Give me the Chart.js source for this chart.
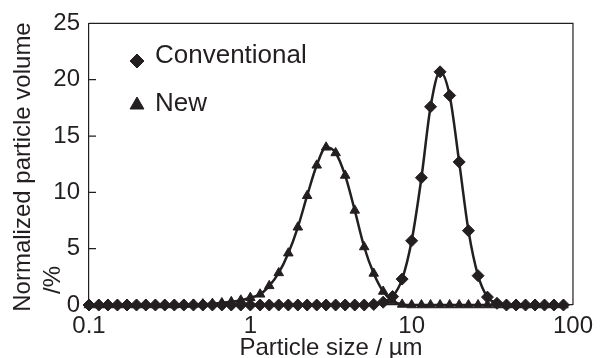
<!DOCTYPE html>
<html>
<head>
<meta charset="utf-8">
<script src="https://cdn.jsdelivr.net/npm/chart.js@4.4.1/dist/chart.umd.min.js"></script>
<style>
  html, body { margin: 0; padding: 0; background: #fff; }
</style>
</head>
<body>
<canvas id="sizeChart" width="600" height="358"></canvas>
<script>
// particle size bins (µm), 17 per decade
const sizes = [
    0.100, 0.115, 0.131, 0.150, 0.172, 0.197, 0.225, 0.258, 0.295, 0.338, 0.387, 0.444, 0.508, 0.582, 0.666, 0.762, 0.873,
    1.00, 1.15, 1.31, 1.50, 1.72, 1.97, 2.25, 2.58, 2.95, 3.38, 3.87, 4.44, 5.08, 5.82, 6.66, 7.62, 8.73,
    10.0, 11.5, 13.1, 15.0, 17.2, 19.7, 22.5, 25.8, 29.5, 33.8, 38.7, 44.4, 50.8, 58.2, 66.6, 76.2, 87.3
];
const conventional = [
    0, 0, 0, 0, 0, 0, 0, 0, 0, 0, 0, 0, 0, 0, 0, 0, 0,
    0, 0, 0, 0, 0, 0, 0, 0, 0, 0, 0, 0, 0, 0.05, 0.25, 0.75,
    2.3, 5.7, 11.3, 17.6, 20.7, 18.6, 12.7, 6.6, 2.6, 0.7, 0.15, 0, 0, 0, 0, 0, 0, 0
];
const newPowder = [
    0, 0, 0, 0, 0, 0, 0, 0, 0, 0, 0.03, 0.05, 0.08, 0.12, 0.18, 0.28, 0.42,
    0.65, 0.95, 1.7, 2.85, 4.6, 6.9, 9.7, 12.4, 14.0, 13.5, 11.5, 8.4, 5.15, 2.8, 1.2, 0.35,
    0.05, 0, 0, 0, 0, 0, 0, 0, 0, 0, 0, 0, 0, 0, 0, 0, 0, 0
];
const seriesNames = ['Conventional', 'New'];
const xTicks = [0.1, 1, 10, 100];
const xTickLabels = ['0.1', '1', '10', '100'];
const yTitle = ['Normalized particle volume', '/%'];
const xTitle = 'Particle size / µm';

const ink = '#231f20';
const fontFamily = "'Liberation Sans', Arial, sans-serif";
Chart.defaults.font.family = fontFamily;
Chart.defaults.color = ink;

const toPoints = vals => sizes.map((s, i) => ({ x: s, y: vals[i] }));

// box frame, inward y ticks, y title and inset legend
const decorations = {
    id: 'decorations',
    beforeDatasetsDraw(chart) {
        const { ctx, chartArea: a, scales } = chart;
        ctx.save();
        ctx.strokeStyle = ink;
        ctx.lineWidth = 1.2;
        ctx.beginPath();
        ctx.moveTo(a.left, a.top);
        ctx.lineTo(a.right, a.top);
        ctx.lineTo(a.right, a.bottom);
        scales.y.ticks.forEach(t => {
            if (t.value <= 0 || t.value >= 25) return;
            const py = scales.y.getPixelForValue(t.value);
            ctx.moveTo(a.left, py);
            ctx.lineTo(a.left + 7, py);
        });
        ctx.stroke();
        ctx.restore();
    },
    afterDraw(chart) {
        const { ctx } = chart;
        ctx.save();
        ctx.fillStyle = ink;
        ctx.font = '24px ' + fontFamily;
        ctx.textBaseline = 'middle';
        ctx.translate(23, 0);
        ctx.rotate(-Math.PI / 2);
        ctx.textAlign = 'center';
        ctx.fillText(yTitle[0], -167, 0);
        ctx.fillText(yTitle[1], -280, 30);
        ctx.restore();

        // legend
        const legendRows = [
            { x: 137, y: 61, text: 56, r: 7 },
            { x: 137, y: 105, text: 104, r: 8 }
        ];
        ctx.save();
        ctx.font = '26px ' + fontFamily;
        ctx.textBaseline = 'middle';
        ctx.textAlign = 'left';
        chart.data.datasets.forEach((ds, i) => {
            const row = legendRows[i];
            ctx.fillStyle = ink;
            ctx.strokeStyle = ink;
            Chart.helpers.drawPoint(ctx, { pointStyle: ds.pointStyle, radius: row.r, rotation: 0, borderWidth: 1 }, row.x, row.y);
            ctx.fillStyle = ink;
            ctx.fillText(ds.label, 155, row.text);
        });
        ctx.restore();
    }
};

new Chart(document.getElementById('sizeChart'), {
    type: 'line',
    data: {
        datasets: [{
            label: seriesNames[0],
            data: toPoints(conventional),
            borderColor: ink,
            backgroundColor: ink,
            borderWidth: 2.5,
            pointStyle: 'rectRot',
            pointRadius: 6,
            pointBorderWidth: 1,
            cubicInterpolationMode: 'monotone',
            clip: false
        }, {
            label: seriesNames[1],
            data: toPoints(newPowder),
            borderColor: ink,
            backgroundColor: ink,
            borderWidth: 2.5,
            pointStyle: 'triangle',
            pointRadius: 5.5,
            pointBorderWidth: 1,
            cubicInterpolationMode: 'monotone',
            clip: false
        }]
    },
    options: {
        responsive: false,
        animation: false,
        layout: { padding: { top: 22, right: 25, left: 0, bottom: 0 } },
        plugins: {
            legend: { display: false },
            tooltip: { enabled: false }
        },
        scales: {
            x: {
                type: 'logarithmic',
                min: 0.1,
                max: 100,
                afterBuildTicks: s => { s.ticks = xTicks.map(v => ({ value: v })); },
                afterFit: s => { s.height = 53; },
                ticks: {
                    autoSkip: false,
                    maxRotation: 0,
                    padding: 7,
                    font: { size: 24 },
                    callback: v => xTickLabels[xTicks.indexOf(v)]
                },
                grid: { display: false, drawTicks: false },
                border: { color: ink, width: 1.2 },
                title: {
                    display: true,
                    text: xTitle,
                    font: { size: 24, lineHeight: 0.8 },
                    padding: { top: 0, bottom: 0 }
                }
            },
            y: {
                min: 0,
                max: 25,
                afterFit: s => { s.width = 89; },
                ticks: { stepSize: 5, padding: 9, font: { size: 24 } },
                grid: { display: false, drawTicks: false },
                border: { color: ink, width: 1.2 }
            }
        }
    },
    plugins: [decorations]
});
</script>
</body>
</html>
